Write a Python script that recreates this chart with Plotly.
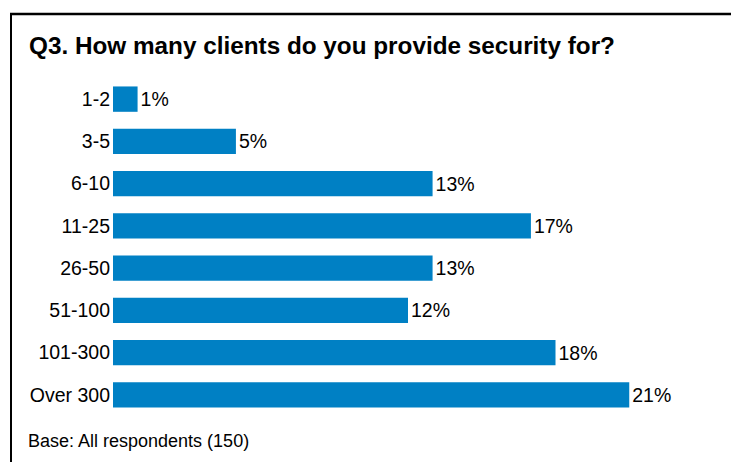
import plotly.graph_objects as go

categories = ["1-2", "3-5", "6-10", "11-25", "26-50", "51-100", "101-300", "Over 300"]
shares = [1, 5, 13, 17, 13, 12, 18, 21]
title_text = "Q3. How many clients do you provide security for?"
base_note = "Base: All respondents (150)"

W, H = 731, 462
ML, MR, MT, MB = 113, 28, 78, 46
PW, PH = W - ML - MR, H - MT - MB
FONT = "Liberation Sans, Arial, sans-serif"


def px_x(px):
    return (px - ML) / PW


def px_y(py):
    return (H - MB - py) / PH


fig = go.Figure(
    go.Bar(
        x=shares,
        y=categories,
        orientation="h",
        marker=dict(color="#0080C4", line=dict(width=0)),
        text=[f"{v}%" for v in shares],
        textposition="outside",
        textfont=dict(family=FONT, size=19.5, color="#000000"),
        cliponaxis=False,
    )
)

fig.update_layout(
    width=W,
    height=H,
    margin=dict(l=ML, r=MR, t=MT, b=MB),
    paper_bgcolor="white",
    plot_bgcolor="white",
    bargap=0.4,
    showlegend=False,
    font=dict(family=FONT, color="#000000"),
    xaxis=dict(range=[0, 24], visible=False, showgrid=False, zeroline=False),
    yaxis=dict(
        categoryorder="array",
        categoryarray=categories,
        autorange="reversed",
        showgrid=False,
        zeroline=False,
        showline=False,
        ticks="",
        tickfont=dict(family=FONT, size=19.5, color="#000000"),
        ticklabelstandoff=2,
    ),
    annotations=[
        dict(
            text=f"<b>{title_text}</b>",
            xref="paper", yref="paper",
            x=px_x(27), y=px_y(45),
            xanchor="left", yanchor="middle",
            showarrow=False,
            font=dict(family=FONT, size=24.3, color="#000000"),
        ),
        dict(
            text=base_note,
            xref="paper", yref="paper",
            x=px_x(26), y=px_y(441),
            xanchor="left", yanchor="middle",
            showarrow=False,
            font=dict(family=FONT, size=18, color="#000000"),
        ),
    ],
    shapes=[
        # frame: top edge and left edge
        dict(type="line", xref="paper", yref="paper",
             x0=px_x(10), x1=px_x(W + 2), y0=px_y(14), y1=px_y(14),
             line=dict(color="#000000", width=2.5)),
        dict(type="line", xref="paper", yref="paper",
             x0=px_x(11), x1=px_x(11), y0=px_y(13), y1=px_y(H + 2),
             line=dict(color="#000000", width=2)),
    ],
)

fig.write_html("out.html")
